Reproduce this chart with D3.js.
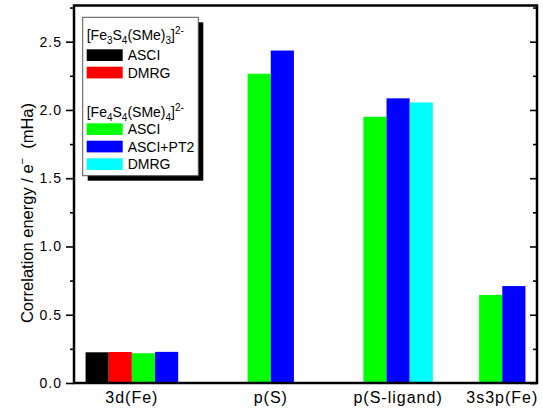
<!DOCTYPE html>
<html>
<head>
<meta charset="utf-8">
<script src="https://cdn.jsdelivr.net/npm/d3@7"></script>
<style>
  body { margin: 0; background: #fff; }
  text { font-family: "Liberation Sans", Arial, sans-serif; fill: #000; }
</style>
</head>
<body>
<div id="chart"></div>
<script>
// data (mHa per electron)
var categories = ["3d(Fe)", "p(S)", "p(S-ligand)", "3s3p(Fe)"];
var fe3Asci    = [0.225, null, null, null];
var fe3Dmrg    = [0.227, null, null, null];
var fe4Asci    = [0.218, 2.265, 1.950, 0.645];
var fe4AsciPT2 = [0.228, 2.435, 2.085, 0.710];
var fe4Dmrg    = [null, null, 2.055, null];
var yTicks = [0, 0.5, 1.0, 1.5, 2.0, 2.5];
var yMinorTicks = [0.25, 0.75, 1.25, 1.75, 2.25, 2.75];

var series = [
  {name: "ASCI",     values: fe3Asci,    color: "#000000"},
  {name: "DMRG",     values: fe3Dmrg,    color: "#ff0000"},
  {name: "ASCI",     values: fe4Asci,    color: "#00ff00"},
  {name: "ASCI+PT2", values: fe4AsciPT2, color: "#0000ff"},
  {name: "DMRG",     values: fe4Dmrg,    color: "#00ffff"}
];

var W = 543, H = 410,
    plot = {left: 74, right: 537, top: 5.5, bottom: 383},
    groupGap = [3, 3, 2];   // empty bar slots after each group

// build bar slots: one per present value, spacers between groups
var bars = [], slots = [], groups = [];
categories.forEach(function (c, i) {
  var first = null, last = null;
  series.forEach(function (s, j) {
    if (s.values[i] == null) return;
    var key = i + "-" + j;
    slots.push(key);
    bars.push({key: key, value: s.values[i], color: s.color});
    if (first == null) first = key;
    last = key;
  });
  groups.push({name: c, first: first, last: last});
  for (var k = 0; k < (groupGap[i] || 0); k++) slots.push("gap-" + i + "-" + k);
});

var x = d3.scaleBand()
    .domain(slots)
    .range([plot.left, plot.right])
    .paddingInner(0)
    .paddingOuter(0.5);

var y = d3.scaleLinear()
    .domain([0, 2.765])
    .range([plot.bottom, plot.top]);

var svg = d3.select("#chart").append("svg")
    .attr("width", W)
    .attr("height", H);

svg.append("rect").attr("width", W).attr("height", H).attr("fill", "#fff");

svg.selectAll("rect.bar")
  .data(bars)
  .enter().append("rect")
    .attr("class", "bar")
    .attr("x", function (d) { return x(d.key); })
    .attr("width", x.bandwidth())
    .attr("y", function (d) { return y(d.value); })
    .attr("height", function (d) { return y(0) - y(d.value); })
    .attr("fill", function (d) { return d.color; });

var minor = yMinorTicks.filter(function (v) { return v < y.domain()[1]; });

// left axis, ticks outward
var left = svg.append("g")
    .attr("transform", "translate(" + plot.left + ",0)")
    .call(d3.axisLeft(y).tickValues(yTicks).tickSize(8).tickPadding(4)
      .tickFormat(d3.format(".1f")));
left.selectAll("text").style("font-size", "14px").style("letter-spacing", "1px");
svg.append("g")
    .attr("transform", "translate(" + plot.left + ",0)")
    .call(d3.axisLeft(y).tickValues(minor).tickSize(4).tickFormat(""));

// right axis, ticks inward
svg.append("g")
    .attr("transform", "translate(" + plot.right + ",0)")
    .call(d3.axisLeft(y).tickValues(yTicks).tickSize(7).tickFormat(""));
svg.append("g")
    .attr("transform", "translate(" + plot.right + ",0)")
    .call(d3.axisLeft(y).tickValues(minor).tickSize(4).tickFormat(""));

svg.selectAll(".domain").remove();
svg.selectAll(".tick line").attr("stroke", "#000").attr("stroke-width", 1.6);

// frame
svg.append("rect")
    .attr("x", plot.left)
    .attr("y", plot.top)
    .attr("width", plot.right - plot.left)
    .attr("height", plot.bottom - plot.top)
    .attr("fill", "none")
    .attr("stroke", "#000")
    .attr("stroke-width", 2.5);

// category labels
svg.selectAll("text.cat")
  .data(groups)
  .enter().append("text")
    .attr("class", "cat")
    .attr("text-anchor", "middle")
    .attr("x", function (d) { return (x(d.first) + x(d.last) + x.bandwidth()) / 2; })
    .attr("y", 403)
    .style("font-size", "16px")
    .style("letter-spacing", "1px")
    .text(function (d) { return d.name; });

// y title
var yt = svg.append("text")
    .attr("transform", "translate(33,213) rotate(-90)")
    .attr("text-anchor", "middle")
    .style("font-size", "16.5px");
yt.append("tspan").text("Correlation energy / e");
yt.append("tspan").attr("dy", -7).style("font-size", "11px").text("\u2212");
yt.append("tspan").attr("dy", 7).text("\u00a0\u00a0(mHa)");

// legend
var lg = {x: 82.7, y: 17.3, w: 115.6, h: 158.4};
svg.append("rect")
    .attr("x", lg.x + 5).attr("y", lg.y + 5)
    .attr("width", lg.w).attr("height", lg.h)
    .attr("fill", "#000");
svg.append("rect")
    .attr("x", lg.x).attr("y", lg.y)
    .attr("width", lg.w).attr("height", lg.h)
    .attr("fill", "#fff")
    .attr("stroke", "#555")
    .attr("stroke-width", 1);

function formula(g, yPos, n) {
  var t = g.append("text").attr("x", 86.7).attr("y", yPos).style("font-size", "14px");
  var parts = [["[Fe", 0], [n, 1], ["S", 0], ["4", 1], ["(SMe)", 0], [n, 1], ["]", 0], ["2-", 2]];
  var shift = 0;
  parts.forEach(function (p) {
    var target = p[1] == 1 ? 4 : p[1] == 2 ? -6 : 0;
    t.append("tspan")
      .attr("dy", target - shift)
      .style("font-size", p[1] ? "10px" : "14px")
      .text(p[0]);
    shift = target;
  });
}

var legendG = svg.append("g");
formula(legendG, 40, "3");
formula(legendG, 117, "4");

var rowsY = [49.3, 66.7, 123.3, 140.7, 158.3];
series.forEach(function (s, i) {
  legendG.append("rect")
    .attr("x", 86.7).attr("y", rowsY[i])
    .attr("width", 36).attr("height", 11.7)
    .attr("fill", s.color);
  legendG.append("text")
    .attr("x", 127.7).attr("y", rowsY[i] + 11)
    .style("font-size", "14px")
    .text(s.name);
});
</script>
</body>
</html>
